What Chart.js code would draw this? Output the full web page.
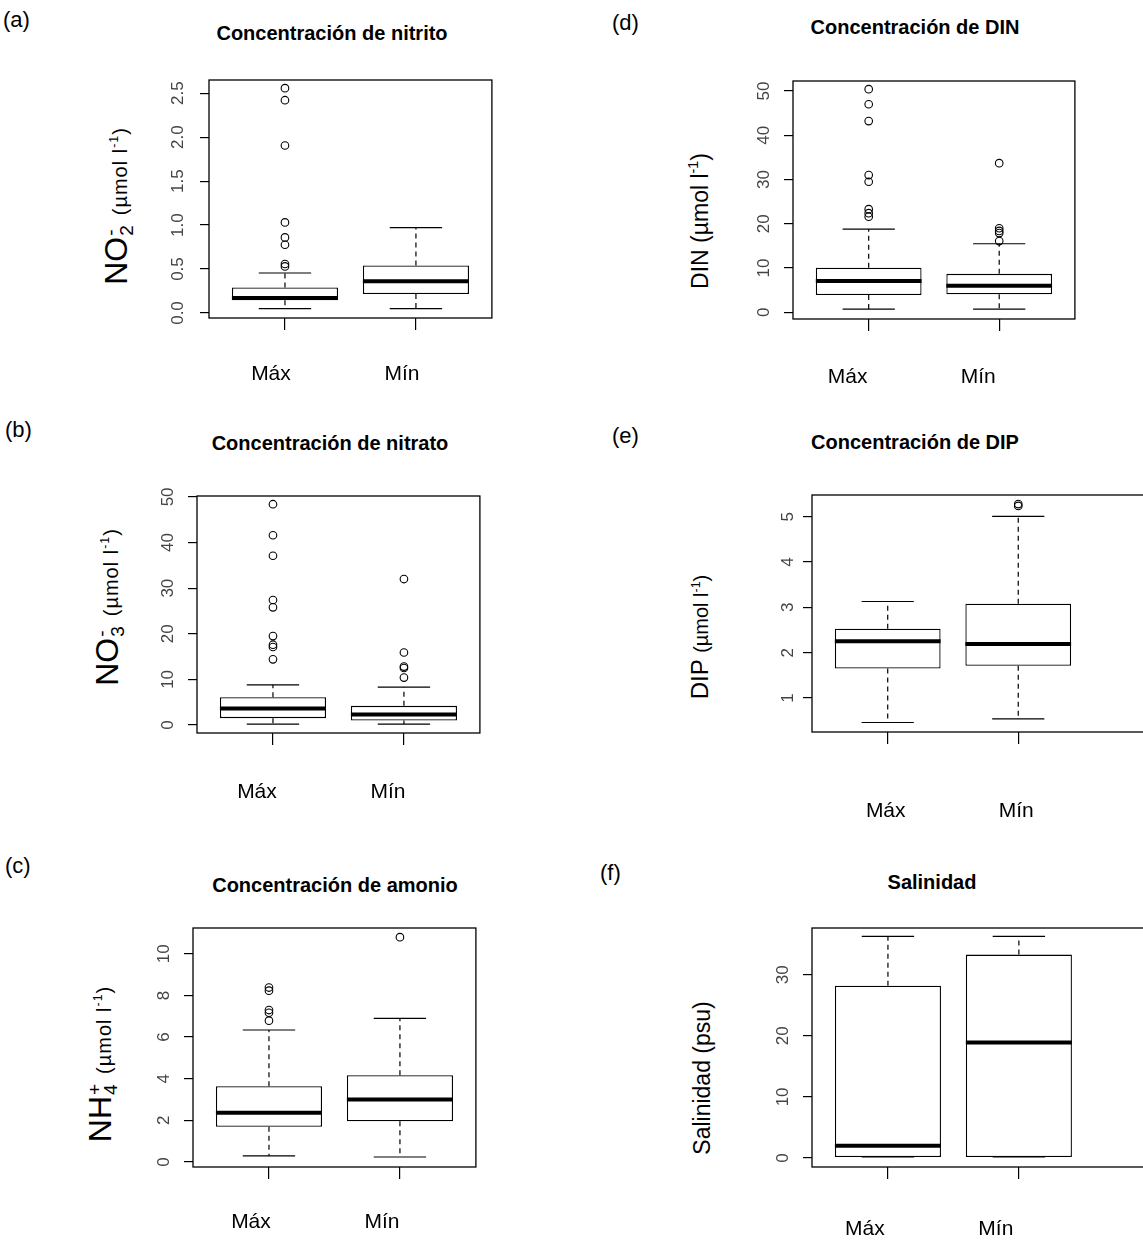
<!DOCTYPE html>
<html>
<head>
<meta charset="utf-8">
<script src="https://cdn.jsdelivr.net/npm/chart.js@4.4.1/dist/chart.umd.min.js"></script>
<style>
    html, body { margin: 0; padding: 0; background: #fff; overflow: hidden; width: 1143px; height: 1243px; }
    body { position: relative; font-family: 'Liberation Sans', Arial, sans-serif; color: #000; }
    canvas { position: absolute; }
    .lbl { position: absolute; white-space: nowrap; line-height: 1; }
    .panel { font-size: 22px; }
    .title { font-weight: bold; font-size: 20px; transform: translate(-50%, -50%); }
    .ylab { font-size: 23px; transform: translate(-50%, -50%) rotate(-90deg); }
    .big { font-size: 32px; }
    .stk { display: inline-block; font-size: 19px; line-height: 16px; vertical-align: -6px; margin-left: 1px; }
    .stk span { display: block; }
    .unit { font-size: 20px; letter-spacing: 1px; margin-left: 10px; }
    .small { font-size: 20px; }
    sup { font-size: 0.62em; vertical-align: 0.65em; line-height: 0; }
</style>
</head>
<body>

<div class="lbl panel" style="left:3px;top:9px">(a)</div>
<div class="lbl panel" style="left:5px;top:419px">(b)</div>
<div class="lbl panel" style="left:5px;top:855px">(c)</div>
<div class="lbl panel" style="left:612px;top:12px">(d)</div>
<div class="lbl panel" style="left:612px;top:425px">(e)</div>
<div class="lbl panel" style="left:600px;top:862px">(f)</div>

<div class="lbl title" style="left:332px;top:33px">Concentración de nitrito</div>
<div class="lbl title" style="left:330px;top:443px">Concentración de nitrato</div>
<div class="lbl title" style="left:335px;top:885px">Concentración de amonio</div>
<div class="lbl title" style="left:915px;top:27px">Concentración de DIN</div>
<div class="lbl title" style="left:915px;top:442px">Concentración de DIP</div>
<div class="lbl title" style="left:932px;top:882px">Salinidad</div>

<div class="lbl ylab" style="left:117px;top:206px"><span class="big">NO</span><span class="stk"><span>-</span><span>2</span></span><span class="unit">(µmol l<sup>-1</sup>)</span></div>
<div class="lbl ylab" style="left:108px;top:607px"><span class="big">NO</span><span class="stk"><span>-</span><span>3</span></span><span class="unit">(µmol l<sup>-1</sup>)</span></div>
<div class="lbl ylab" style="left:101px;top:1064px"><span class="big">NH</span><span class="stk"><span>+</span><span>4</span></span><span class="unit">(µmol l<sup>-1</sup>)</span></div>
<div class="lbl ylab" style="left:700px;top:221px">DIN (µmol l<sup>-1</sup>)</div>
<div class="lbl ylab" style="left:700px;top:637px"><span style="font-size:24px">DIP</span> <span class="small">(µmol l<sup>-1</sup>)</span></div>
<div class="lbl ylab" style="left:702px;top:1078px">Salinidad (psu)</div>

<canvas id="chartNitrito" width="328" height="352" style="left:169px;top:66px"></canvas>
<canvas id="chartNitrato" width="328" height="351" style="left:157px;top:482px"></canvas>
<canvas id="chartAmonio" width="328" height="353" style="left:153px;top:914px"></canvas>
<canvas id="chartDin" width="327" height="352" style="left:753px;top:67px"></canvas>
<canvas id="chartDip" width="408" height="351" style="left:772px;top:481px"></canvas>
<canvas id="chartSal" width="408" height="353" style="left:772px;top:914px"></canvas>

<script>
const categories = ['Máx', 'Mín'];

// cada grupo: [bigote inferior, Q1, mediana, Q3, bigote superior]
const nitritoStats = [[0.05, 0.144, 0.17, 0.29, 0.455], [0.05, 0.216, 0.36, 0.54, 0.97]];
const nitritoOutliers = [[0.53, 0.557, 0.776, 0.86, 1.03, 1.905, 2.42, 2.557], []];
const nitritoTicks = [0, 0.5, 1, 1.5, 2, 2.5];
const nitritoTickLabels = ['0.0', '0.5', '1.0', '1.5', '2.0', '2.5'];

const nitratoStats = [[0.2, 1.5, 3.6, 6.1, 8.8], [0.2, 1.0, 2.3, 4.2, 8.3]];
const nitratoOutliers = [[14.4, 17.1, 17.6, 19.5, 25.8, 27.4, 37.1, 41.6, 48.4], [10.4, 12.5, 12.8, 15.9, 32.0]];
const nitratoTicks = [0, 10, 20, 30, 40, 50];
const nitratoTickLabels = ['0', '10', '20', '30', '40', '50'];

const amonioStats = [[0.29, 1.69, 2.36, 3.64, 6.34], [0.24, 1.96, 3.0, 4.17, 6.9]];
const amonioOutliers = [[6.79, 7.17, 7.30, 8.23, 8.38], [10.8]];
const amonioTicks = [0, 2, 4, 6, 8, 10];
const amonioTickLabels = ['0', '2', '4', '6', '8', '10'];

const dinStats = [[0.75, 3.9, 7.1, 10.1, 18.8], [0.75, 4.1, 6.0, 8.7, 15.5]];
const dinOutliers = [[21.6, 22.4, 23.3, 29.5, 31.0, 43.2, 47.0, 50.4], [16.1, 17.9, 18.4, 19.0, 33.7]];
const dinTicks = [0, 10, 20, 30, 40, 50];
const dinTickLabels = ['0', '10', '20', '30', '40', '50'];

const dipStats = [[0.46, 1.65, 2.25, 2.53, 3.13], [0.54, 1.71, 2.19, 3.08, 5.01]];
const dipOutliers = [[], [5.24, 5.28]];
const dipTicks = [1, 2, 3, 4, 5];
const dipTickLabels = ['1', '2', '3', '4', '5'];

const salStats = [[0.16, 0.16, 2.0, 28.2, 36.3], [0.16, 0.16, 18.9, 33.3, 36.3]];
const salOutliers = [[], []];
const salTicks = [0, 10, 20, 30];
const salTickLabels = ['0', '10', '20', '30'];

const BOX_HALF = 0.405;
const CAP_HALF = 0.2;

Chart.defaults.font.family = "'Liberation Sans', Arial, sans-serif";

const framePlugin = {
    id: 'frame',
    afterDraw(chart) {
        const { ctx, chartArea: a } = chart;
        ctx.save();
        ctx.strokeStyle = '#000';
        ctx.lineWidth = 1.3;
        ctx.strokeRect(a.left, a.top, a.right - a.left, a.bottom - a.top);
        ctx.restore();
    }
};

function segment(x1, y1, x2, y2, extra) {
    return Object.assign({
        type: 'line',
        data: [{ x: x1, y: y1 }, { x: x2, y: y2 }],
        borderColor: '#000',
        borderWidth: 1.2,
        pointRadius: 0,
        fill: false,
        tension: 0,
        order: 2
    }, extra);
}

function boxplotDatasets(stats, outliers) {
    const sets = [{
        type: 'bar',
        data: stats.map((s, i) => ({ x: i + 1, y: [s[1], s[3]] })),
        backgroundColor: '#fff',
        borderColor: '#000',
        borderWidth: 1.3,
        borderSkipped: false,
        barPercentage: 0.9,
        categoryPercentage: 0.9,
        order: 3
    }];

    stats.forEach((s, i) => {
        const x = i + 1;
        sets.push(segment(x - BOX_HALF, s[2], x + BOX_HALF, s[2], { borderWidth: 4, order: 1 }));
        sets.push(segment(x, s[3], x, s[4], { borderDash: [5, 4] }));
        sets.push(segment(x, s[1], x, s[0], { borderDash: [5, 4] }));
        sets.push(segment(x - CAP_HALF, s[4], x + CAP_HALF, s[4]));
        sets.push(segment(x - CAP_HALF, s[0], x + CAP_HALF, s[0]));
    });

    sets.push({
        type: 'scatter',
        data: outliers.flatMap((vals, i) => vals.map(v => ({ x: i + 1, y: v }))),
        pointStyle: 'circle',
        pointRadius: 3.8,
        pointBorderWidth: 1.1,
        pointBackgroundColor: 'rgba(0,0,0,0)',
        pointBorderColor: '#000',
        order: 0
    });
    return sets;
}

function drawPanel(id, stats, outliers, yTicks, yTickLabels, yMin, yMax, opts) {
    new Chart(document.getElementById(id), {
        type: 'bar',
        data: { datasets: boxplotDatasets(stats, outliers) },
        options: {
            responsive: false,
            animation: false,
            layout: { padding: { top: 14, right: 4, left: 0, bottom: 0 } },
            plugins: {
                legend: { display: false },
                tooltip: { enabled: false }
            },
            scales: {
                x: {
                    type: 'linear',
                    min: 0.42,
                    max: opts.xMax,
                    offset: false,
                    border: { display: false },
                    grid: { display: true, offset: false, drawOnChartArea: false, drawTicks: true, tickLength: 12, color: '#000', lineWidth: 1.2 },
                    ticks: {
                        color: '#000',
                        font: { size: 21 },
                        padding: opts.labelPad,
                        labelOffset: opts.labelShift,
                        maxRotation: 0,
                        callback: v => categories[v - 1] || ''
                    },
                    afterBuildTicks: s => { s.ticks = categories.map((c, i) => ({ value: i + 1 })); },
                    afterFit: s => { s.height = 100; s.paddingLeft = 0; s.paddingRight = 0; }
                },
                y: {
                    type: 'linear',
                    min: yMin,
                    max: yMax,
                    beginAtZero: false,
                    border: { display: false },
                    grid: { display: true, drawOnChartArea: false, drawTicks: true, tickLength: 9, color: '#000', lineWidth: 1.2 },
                    ticks: {
                        color: '#444',
                        font: { size: 17 },
                        minRotation: 90,
                        maxRotation: 90,
                        crossAlign: 'center',
                        padding: 10,
                        callback: (v, i) => yTickLabels[i]
                    },
                    afterBuildTicks: s => { s.ticks = yTicks.map(v => ({ value: v })); },
                    afterFit: s => { s.width = 40; s.paddingTop = 0; s.paddingBottom = 0; }
                }
            }
        },
        plugins: [framePlugin]
    });
}

drawPanel('chartNitrito', nitritoStats, nitritoOutliers, nitritoTicks, nitritoTickLabels, -0.057, 2.65,
    { xMax: 2.58, labelPad: 32, labelShift: -14 });
drawPanel('chartNitrato', nitratoStats, nitratoOutliers, nitratoTicks, nitratoTickLabels, -1.75, 50.2,
    { xMax: 2.58, labelPad: 35, labelShift: -16 });
drawPanel('chartAmonio', amonioStats, amonioOutliers, amonioTicks, amonioTickLabels, -0.24, 11.24,
    { xMax: 2.58, labelPad: 31, labelShift: -18 });
drawPanel('chartDin', dinStats, dinOutliers, dinTicks, dinTickLabels, -1.5, 52.25,
    { xMax: 2.58, labelPad: 34, labelShift: -21 });
drawPanel('chartDip', dipStats, dipOutliers, dipTicks, dipTickLabels, 0.25, 5.48,
    { xMax: 3.2, labelPad: 55, labelShift: -2 });
drawPanel('chartSal', salStats, salOutliers, salTicks, salTickLabels, -1.48, 37.66,
    { xMax: 3.2, labelPad: 38, labelShift: -23 });
</script>
</body>
</html>
